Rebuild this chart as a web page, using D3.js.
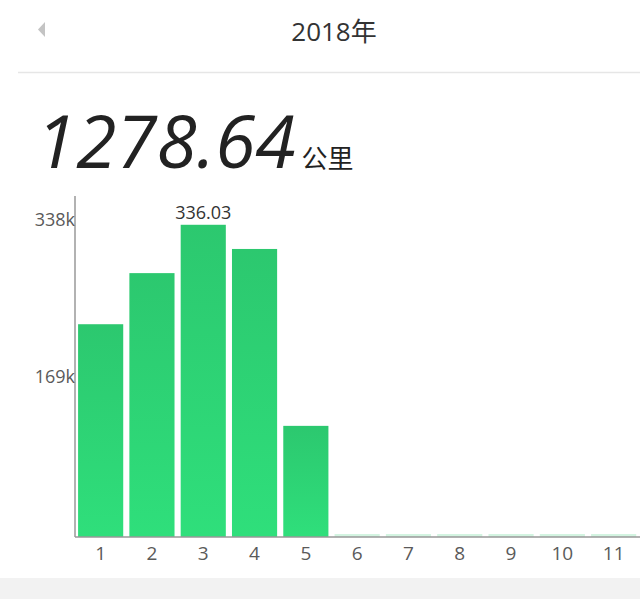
<!DOCTYPE html>
<html>
  <head>
    <meta charset="utf-8" />
    <title>2018年 里程</title>
    <script src="https://d3js.org/d3.v7.min.js"></script>
    <style>
      body { margin: 0; background: #fff; }
      svg { display: block; }
    </style>
  </head>
  <body>
    <svg id="chart" width="640" height="599"></svg>

    <script>
      // Datos del gráfico
      const months = ["1", "2", "3", "4", "5", "6", "7", "8", "9", "10", "11", "12"];
      const distances = [229, 284, 336.03, 310, 119.61, 0, 0, 0, 0, 0, 0, 0];
      const yTicks = [169, 338];
      const title = "2018年";
      const total = "1278.64";
      const unit = "公里";

      const svg = d3.select("#chart");
      const latin = "'Open Sans', 'Noto Sans', sans-serif";
      const cjk = "'Open Sans', 'Noto Sans CJK SC', sans-serif";

      // Cabecera
      svg.append("path")
        .attr("d", "M38,29.5L45,22L45,37Z")
        .attr("fill", "#c4c4c4");
      svg.append("text")
        .attr("x", 334).attr("y", 41)
        .attr("text-anchor", "middle")
        .style("font-family", cjk).style("font-size", "26px")
        .attr("fill", "#333")
        .text(title);
      svg.append("line")
        .attr("x1", 18).attr("x2", 640).attr("y1", 72.5).attr("y2", 72.5)
        .attr("stroke", "#e6e6e6").attr("stroke-width", 1.5);

      // Total
      const big = svg.append("text")
        .attr("x", 36).attr("y", 168)
        .style("font-family", latin);
      big.append("tspan")
        .style("font-size", "73px").style("font-style", "italic")
        .attr("fill", "#222")
        .text(total);
      big.append("tspan")
        .attr("dx", 6)
        .style("font-family", cjk).style("font-size", "26px")
        .attr("fill", "#222")
        .text(unit);

      // Escalas
      const x = d3.scaleBand()
        .domain(months)
        .range([75, 75 + 12 * 51.3])
        .paddingInner(0.12)
        .paddingOuter(0.06);
      const y = d3.scaleLinear()
        .domain([0, 367])
        .range([537, 196]);

      // Degradado de las barras
      const grad = svg.append("defs").append("linearGradient")
        .attr("id", "barGrad")
        .attr("x1", 0).attr("y1", 0).attr("x2", 0).attr("y2", 1);
      grad.append("stop").attr("offset", "0%").attr("stop-color", "#2cc86f");
      grad.append("stop").attr("offset", "100%").attr("stop-color", "#2fdf7b");

      // Barras
      svg.append("g")
        .selectAll("rect")
        .data(months)
        .enter()
        .append("rect")
        .attr("x", (d) => x(d))
        .attr("width", x.bandwidth())
        .attr("y", (d, i) => distances[i] > 0 ? y(distances[i]) : y(0) - 3)
        .attr("height", (d, i) => distances[i] > 0 ? y(0) - y(distances[i]) : 3)
        .attr("fill", (d, i) => distances[i] > 0 ? "url(#barGrad)" : "#d3f4e1");

      // Etiqueta del máximo
      const maxIdx = d3.maxIndex(distances);
      svg.append("text")
        .attr("x", x(months[maxIdx]) + x.bandwidth() / 2)
        .attr("y", y(distances[maxIdx]) - 6)
        .attr("text-anchor", "middle")
        .style("font-family", latin).style("font-size", "18px")
        .attr("fill", "#333")
        .text(distances[maxIdx].toFixed(2));

      // Eje Y
      const yAxis = svg.append("g")
        .attr("transform", "translate(75,0)")
        .call(d3.axisLeft(y).tickValues(yTicks).tickSize(0).tickPadding(0)
          .tickFormat((d) => d + "k"));
      yAxis.select(".domain")
        .attr("d", `M0,196V${y(0)}`)
        .attr("stroke", "#999").attr("stroke-width", 1.5);
      yAxis.selectAll("text")
        .attr("y", -3)
        .style("font-family", latin).style("font-size", "18px")
        .attr("fill", "#5a5a5a");

      // Eje X (el mes 12 queda fuera de la vista)
      const xAxis = svg.append("g")
        .attr("transform", `translate(0,${y(0)})`)
        .call(d3.axisBottom(x).tickValues(months.slice(0, 11)).tickSize(0).tickPadding(10));
      xAxis.select(".domain")
        .attr("d", "M75,0H640")
        .attr("stroke", "#999").attr("stroke-width", 1.5);
      xAxis.selectAll("text")
        .style("font-family", latin).style("font-size", "19px")
        .attr("fill", "#5a5a5a");

      // Franja inferior
      svg.append("rect")
        .attr("x", 0).attr("y", 578).attr("width", 640).attr("height", 21)
        .attr("fill", "#f2f2f2");
    </script>
  </body>
</html>
